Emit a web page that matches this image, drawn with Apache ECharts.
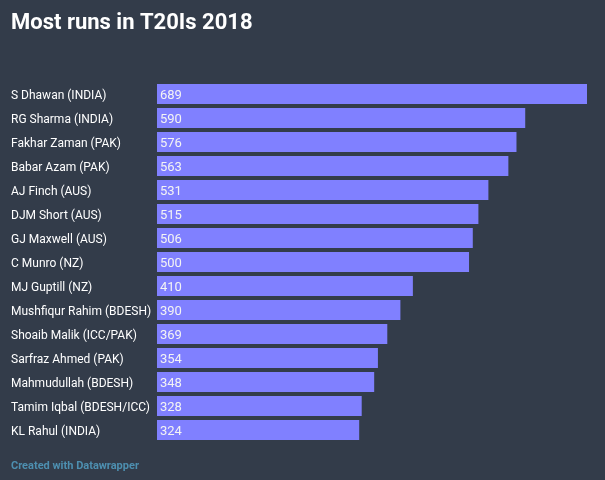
<!DOCTYPE html>
<html><head><meta charset="utf-8">
<script src="https://cdn.jsdelivr.net/npm/echarts@6/dist/echarts.min.js"></script>
<style>html,body{margin:0;padding:0;background:#333c4a;}#c{width:605px;height:480px;}</style>
</head><body><div id="c"></div>
<script>
const players = ["S Dhawan (INDIA)","RG Sharma (INDIA)","Fakhar Zaman (PAK)","Babar Azam (PAK)","AJ Finch (AUS)","DJM Short (AUS)","GJ Maxwell (AUS)","C Munro (NZ)","MJ Guptill (NZ)","Mushfiqur Rahim (BDESH)","Shoaib Malik (ICC/PAK)","Sarfraz Ahmed (PAK)","Mahmudullah (BDESH)","Tamim Iqbal (BDESH/ICC)","KL Rahul (INDIA)"];
const runs = [689,590,576,563,531,515,506,500,410,390,369,354,348,328,324];

const chart = echarts.init(document.getElementById('c'));
chart.setOption({
  backgroundColor: '#333c4a',
  animation: false,
  title: [{
    text: 'Most runs in T20Is 2018', left: 11, top: 12, padding: 0,
    textStyle: {color: '#ffffff', fontFamily: 'Roboto', fontWeight: 'bold', fontSize: 22}
  },{
    text: 'Created with Datawrapper', left: 11, top: 461, padding: 0,
    textStyle: {color: '#4d8fb0', fontFamily: 'Roboto', fontWeight: 'bold', fontSize: 11}
  }],
  grid: {left: 157, right: 18, top: 82, bottom: 38},
  xAxis: {type: 'value', min: 0, max: 689, show: false},
  yAxis: {
    type: 'category', data: players, inverse: true,
    axisLine: {show: false}, axisTick: {show: false},
    axisLabel: {
      align: 'left', margin: 146, color: '#ffffff', fontFamily: 'Roboto', fontSize: 12,
      formatter: v => '{a|' + v + '}',
      rich: {a: {color: '#ffffff', fontFamily: 'Roboto', fontSize: 12, padding: [4, 0, 0, 0]}}
    }
  },
  series: [{
    type: 'bar', data: runs, barWidth: 20,
    itemStyle: {color: '#8080ff'},
    label: {show: true, position: 'insideLeft', offset: [-2, 2], color: '#f4f4f4', fontFamily: 'Roboto', fontSize: 13}
  }]
});
</script></body></html>
